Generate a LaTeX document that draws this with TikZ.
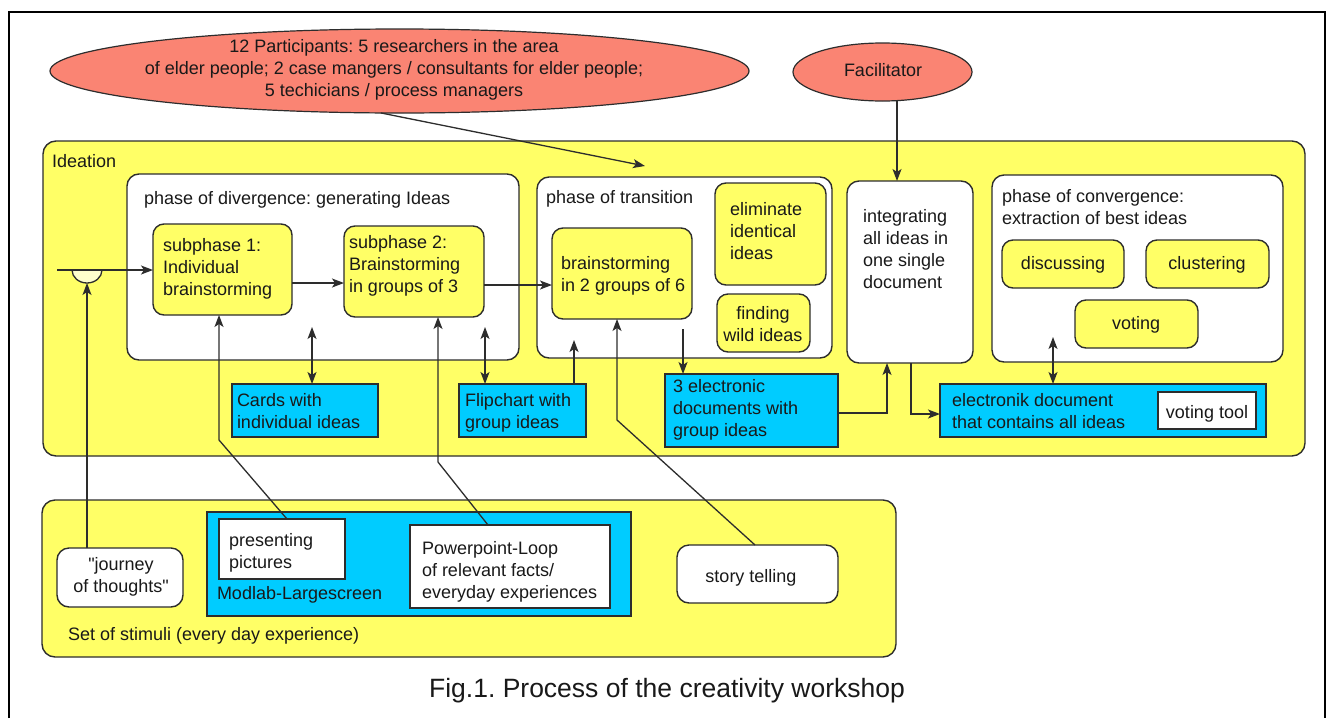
\documentclass[tikz,border=0pt]{standalone}
\usepackage{fontspec}
\setmainfont{Liberation Sans}[Ligatures=TeXOff]
\usetikzlibrary{shapes.geometric,arrows.meta,calc}
\definecolor{ideayellow}{RGB}{255,255,102}
\definecolor{boxcyan}{RGB}{0,204,255}
\definecolor{salmonred}{RGB}{250,132,115}
\definecolor{paleyellow}{RGB}{255,255,204}
\definecolor{ink}{RGB}{25,25,25}
\definecolor{edge}{RGB}{45,45,45}
\newcommand\st{\rule{0pt}{14pt}}
\frenchspacing
\begin{document}
\begin{tikzpicture}[x=1pt,y=-1pt,
  every node/.style={inner sep=0pt, outer sep=0pt},
  boxbase/.style={anchor=north west, line width=1.4pt, draw=edge},
  ybig/.style={boxbase, fill=ideayellow, rounded corners=13pt},
  wbox/.style={boxbase, fill=white, rounded corners=12pt},
  ybox/.style={boxbase, fill=ideayellow, rounded corners=11pt},
  cbox/.style={boxbase, fill=boxcyan},
  nbox/.style={boxbase, fill=white},
  oval/.style={ellipse, draw=edge, line width=1.2pt, fill=salmonred},
  txt/.style={anchor=north west, align=left, text=ink, font=\fontsize{18}{22}\selectfont},
  ctxt/.style={txt, anchor=north, align=center},
  btxt/.style={txt, anchor=base},
  bwtxt/.style={txt, anchor=base west},
  conn/.style={draw=edge, line width=1.3pt},
  arr/.style={conn, -{Stealth[length=12pt,width=9pt,inset=3pt]}},
  darr/.style={conn, {Stealth[length=12pt,width=9pt,inset=3pt]}-{Stealth[length=12pt,width=9pt,inset=3pt]}},
]
\useasboundingbox (0,0) rectangle (1327,718);
\fill[white] (0,0) rectangle (1327,718);
% frame
\draw[line width=2pt] (8.5,718) -- (8.5,12) -- (1325,12) -- (1325,718);

% ellipses
\node[oval, minimum width=699pt, minimum height=84pt] (part) at (399.5,71) {};
\node[ctxt] (parttxt) at (394,38) {\st 12 Participants: 5 researchers in the area\\of elder people; 2 case mangers / consultants for elder people;\\5 techicians / process managers};
\node[oval, minimum width=179pt, minimum height=58pt] (fac) at (882.5,72) {};
\node[btxt] (factxt) at (883,76) {Facilitator};

% ideation
\node[ybig, minimum width=1262pt, minimum height=315pt] (ideation) at (43,141) {};
\node[bwtxt] (ideatxt) at (52,167) {Ideation};

\node[wbox, minimum width=392pt, minimum height=186pt] (div) at (127,174) {};
\node[bwtxt] (divtxt) at (144,204) {phase of divergence: generating Ideas};
\node[ybox, minimum width=139pt, minimum height=91pt] (sp1) at (153,224) {};
\node[txt] (sp1txt) at (163,237) {\st subphase 1:\\Individual\\brainstorming};
\node[ybox, minimum width=140pt, minimum height=91pt] (sp2) at (344,226) {};
\node[txt] (sp2txt) at (349,234) {\st subphase 2:\\Brainstorming\\in groups of 3};

\node[wbox, minimum width=295pt, minimum height=181pt] (trans) at (537,177) {};
\node[bwtxt] (transtxt) at (546,203) {phase of transition};
\node[ybox, minimum width=140pt, minimum height=91pt] (bs6) at (552,228) {};
\node[txt] (bs6txt) at (561,255) {\st brainstorming\\in 2 groups of 6};
\node[ybox, minimum width=111pt, minimum height=102pt] (elim) at (715,183) {};
\node[txt] (elimtxt) at (730,201) {\st eliminate\\identical\\ideas};
\node[ybox, minimum width=93pt, minimum height=58pt] (wild) at (717,294) {};
\node[ctxt] (wildtxt) at (763,305) {\st finding\\wild ideas};

\node[wbox, minimum width=126pt, minimum height=182pt] (integ) at (847,181) {};
\node[txt] (integtxt) at (863,208) {\st integrating\\all ideas in\\one single\\document};

\node[wbox, minimum width=291pt, minimum height=187pt] (conv) at (992,175) {};
\node[txt] (convtxt) at (1002,188) {\st phase of convergence:\\extraction of best ideas};
\node[ybox, minimum width=122pt, minimum height=48pt] (disc) at (1002,240) {};
\node[btxt] (disctxt) at (1063,269) {discussing};
\node[ybox, minimum width=123pt, minimum height=48pt] (clus) at (1146,240) {};
\node[btxt] (clustxt) at (1207,269) {clustering};
\node[ybox, minimum width=123pt, minimum height=48pt] (vote) at (1075,300) {};
\node[btxt] (votetxt) at (1136,329) {voting};

\node[cbox, minimum width=146pt, minimum height=53pt] (cards) at (232,384) {};
\node[txt] (cardstxt) at (237,392) {\st Cards with\\individual ideas};
\node[cbox, minimum width=127pt, minimum height=53pt] (flip) at (459,384) {};
\node[txt] (fliptxt) at (465,392) {\st Flipchart with\\group ideas};
\node[cbox, minimum width=173pt, minimum height=73pt] (edocs) at (665,374) {};
\node[txt] (edocstxt) at (673,378) {\st 3 electronic\\documents with\\group ideas};
\node[cbox, minimum width=326pt, minimum height=53pt] (edoc) at (940,384) {};
\node[txt] (edoctxt) at (952,392) {\st electronik document\\that contains all ideas};
\node[nbox, minimum width=98pt, minimum height=37pt] (vtool) at (1158,392) {};
\node[btxt] (vtooltxt) at (1207,418) {voting tool};

% stimuli
\node[ybig, minimum width=854pt, minimum height=157pt] (stim) at (42,500) {};
\node[bwtxt] (stimtxt) at (68,640) {Set of stimuli (every day experience)};
\node[wbox, minimum width=126pt, minimum height=59pt] (journey) at (57,548) {};
\node[ctxt] (journeytxt) at (121,556) {\st "journey\\of thoughts"};
\node[cbox, minimum width=424pt, minimum height=104pt] (modlab) at (207,512) {};
\node[bwtxt] (modlabtxt) at (217,599) {Modlab-Largescreen};
\node[nbox, minimum width=126pt, minimum height=60pt] (pics) at (219,519) {};
\node[txt] (picstxt) at (229,532) {\st presenting\\pictures};
\node[nbox, minimum width=200pt, minimum height=83pt] (ppt) at (410,525) {};
\node[txt] (ppttxt) at (422,540) {\st Powerpoint-Loop\\of relevant facts/\\everyday experiences};
\node[wbox, minimum width=161pt, minimum height=58pt] (story) at (677,545) {};
\node[btxt] (storytxt) at (751,582) {story telling};

% caption
\node[txt, anchor=base, font=\fontsize{26.5}{30}\selectfont] (caption) at (667,697) {Fig.1. Process of the creativity workshop};

% connectors
\coordinate (partend) at (645,166);
\draw[arr] (part.-114) -- (partend);
\coordinate (facx) at (897,0);
\draw[arr] (fac.south -| facx) -- (integ.north -| facx);

\coordinate (entry) at (57,270);
\coordinate (merge) at (87,283);
\draw[conn, fill=paleyellow] (72,270) arc[start angle=180, end angle=360, x radius=15pt, y radius=13pt] -- cycle;
\draw[arr] (entry) -- (entry -| sp1.west);
\draw[arr] (journey.north -| merge) -- (merge);

\coordinate (r1) at (0,283);
\draw[arr] (sp1.east |- r1) -- (sp2.west |- r1);
\coordinate (r2) at (0,285);
\draw[arr] (sp2.east |- r2) -- (bs6.west |- r2);

\coordinate (cardtip) at (312,327);
\draw[darr] (cards.north -| cardtip) -- (cardtip);
\coordinate (fliptip) at (485,327);
\draw[darr] (flip.north -| fliptip) -- (fliptip);
\coordinate (flipup) at (574,340);
\draw[arr] (flip.north -| flipup) -- (flipup);
\coordinate (edtop) at (683,329);
\draw[arr] (edtop) -- (edocs.north -| edtop);
\coordinate (ej) at (887,413);
\draw[arr] (edocs.east |- ej) -| (integ.south -| ej);
\coordinate (ie) at (911,414);
\draw[arr] (integ.south -| ie) |- (edoc.west |- ie);
\coordinate (convtip) at (1053,337);
\draw[darr] (edoc.north -| convtip) -- (convtip);

\coordinate (pbend) at (219,440);
\draw[arr] ($(pics.north west)+(68,0)$) -- (pbend) -- (sp1.south -| pbend);
\coordinate (tbend) at (438,462);
\draw[arr] ($(ppt.north west)+(78,0)$) -- (tbend) -- (sp2.south -| tbend);
\coordinate (sbend) at (617,420);
\draw[arr] ($(story.north west)+(78,0)$) -- (sbend) -- (bs6.south -| sbend);
\end{tikzpicture}
\end{document}
